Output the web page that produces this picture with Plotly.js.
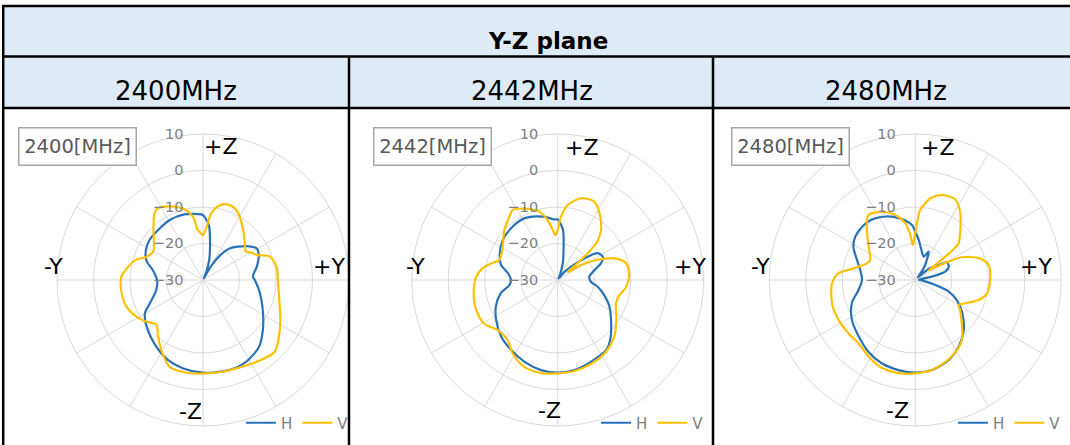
<!DOCTYPE html>
<html>
<head>
<meta charset="utf-8">
<script src="https://cdn.plot.ly/plotly-3.0.1.min.js"></script>
<style>
  html, body { margin: 0; padding: 0; background: #ffffff; }
  #chart { width: 1070px; height: 445px; }
</style>
</head>
<body>
<div id="chart"></div>
<script>
// ---------------- DATA (angle in degrees clockwise from +Z, gain in dBi) ----------------
const TITLE = "Y-Z plane";
const FREQ_HEADERS = ["2400MHz", "2442MHz", "2480MHz"];
const FREQ_LABELS = ["2400[MHz]", "2442[MHz]", "2480[MHz]"];
const SERIES_NAMES = ["H", "V"];
const DIR_LABELS = ["+Z", "-Z", "-Y", "+Y"];
const RADIAL_TICKS = [-30, -20, -10, 0, 10];

const T_2400_H = [0,6,10,17,22,26,30,35,40,52,60,67,76,86,90,103,119,130,140,152,164,180,193,204,215,230,240,246,258,270,281,289,298,307,318,331,344,358];
const R_2400_H = [-12.2,-14.8,-18.9,-24.2,-27.5,-29.5,-25.5,-21.5,-18.7,-14.9,-12.9,-13.4,-14.8,-16.3,-15.8,-14,-11.2,-8.6,-6.1,-4.7,-4.3,-4.6,-5.2,-6.1,-7.7,-9.9,-11.6,-14,-16.9,-17.4,-16,-13.6,-12.3,-11.7,-11.6,-11.2,-11.3,-12];
const T_2400_V = [0,4,7,11.5,17,24,30,39,49,56,60.5,65.6,70.7,80,90,102,118,127,135,147,155,168,180,190,201,208,218.5,226,234,241,251,263,272,280,287,292,300,307,315,324,328,336,345.5,351,354,357.5];
const R_2400_V = [-17.7,-15.4,-11.6,-9.4,-8.3,-8.5,-9.9,-12.5,-14.8,-15.9,-14.8,-13.5,-10.6,-9.5,-9.5,-8.7,-6,-4,-2.2,-3.2,-3.9,-4.3,-4.4,-4.2,-4.5,-6.7,-10.2,-12.3,-10.7,-9.2,-7.8,-7.4,-7.6,-9.2,-10.9,-13.2,-14.3,-13.2,-10.8,-7.4,-6.8,-7.9,-10,-12.5,-16.2,-17.2];

const T_2442_H = [0,6,10,17,22,30,40,45,51,56,63,69,75,84,93,99.5,108,117,127,137,145,158,169.5,180,190.5,202,214,225,237,247,257,264,270,278,285,295,306,318,332,347,357];
const R_2442_H = [-13.4,-16.2,-20.7,-25.2,-28,-29.5,-27,-24.8,-20.6,-16.8,-16.1,-17.3,-19.6,-21.3,-20.9,-18.9,-16.6,-14.1,-11.7,-8.7,-6.7,-5.8,-4.9,-4.6,-4.9,-5.8,-7,-8.1,-9.9,-11.6,-14,-16.7,-17.2,-16.2,-13.9,-12.5,-11.4,-10.9,-10.8,-12.2,-13.4];
const T_2442_V = [0,3,7.6,16,25,32,41,46,48,49.5,51,54,57,63,69,76,87,96,104,112,124,135,146,158,170,180,190,201,211.5,220,230,239,250,261,272,279,284,289,301,313,322.6,327,335,345,350.5,354.3,357];
const R_2442_V = [-16.3,-12.6,-9.3,-6.7,-6.3,-8.4,-11.9,-15,-18.5,-22.5,-26.5,-25.5,-22.4,-17.8,-13.4,-10.7,-10.4,-11.2,-12.6,-12.8,-10.6,-8.1,-6.3,-5.3,-4.6,-4.4,-4.1,-4.5,-6.4,-8.6,-8.6,-6.6,-6.2,-6.7,-7.6,-9.2,-11.2,-13.1,-12.4,-10,-8.2,-7.2,-8.4,-10.6,-13.4,-16.2,-17.7];

const T_2480_H = [0,5,13,20,25,30,37,44,50,57,61,68,74.5,78,86,95,104,109,116,125,136,147,157,169.5,180,190.5,202,213,225,238,250,260,270,280,289,298,306,315,323,335,346,356.5];
const R_2480_H = [-16.8,-19,-22,-23.2,-21.4,-23.7,-26.5,-29,-25.5,-22.4,-20.1,-20.1,-21.5,-24.9,-29,-28,-24.3,-20.3,-17.3,-14.3,-10.9,-8.2,-6.3,-4.9,-4.6,-4.9,-5.4,-6.5,-8.1,-9.5,-11.5,-14.2,-15.4,-14.7,-13.1,-10.8,-9.7,-9.4,-9.5,-10.8,-12.6,-14.9];
const T_2480_V = [0,2,4,10.4,17.4,26,33,39.5,45,49.8,51.5,52.5,54,57,61,64,71,78.4,90,100.5,107.5,115,120,124,133,142,149,157.4,169.5,180,190,200.7,211,222,231,242,254,268,275,280,289,294,305.5,316,324,334,343,350,353.7,356];
const R_2480_V = [-17,-14,-10.8,-7.3,-5.6,-5.3,-7.5,-10.5,-12.7,-14.5,-17.3,-21.9,-25.5,-24,-19.6,-15.8,-11.6,-9.5,-9.5,-10,-11.8,-14.9,-16.3,-15.2,-12.6,-9.2,-7.7,-6.4,-4.9,-4.4,-4.1,-4.2,-5.4,-6.7,-6.6,-6.3,-6.3,-7.2,-8.9,-12.4,-16,-16.5,-14.3,-10.9,-8.1,-9.2,-11.4,-14.2,-17.6,-20.4];

// ---------------- LAYOUT CONSTANTS ----------------
const W = 1070, H = 445;
const COL_H = "#2A72B8", COL_V = "#FFC000";
const GRID = "#D9D9D9";
const FONT = "DejaVu Sans, Verdana, sans-serif";
const px = x => x / W;
const py = y => 1 - y / H;

const centers = [203, 557.7, 915.3];
const CY = 280, RAD = 146;

const dataSets = [
  [[T_2400_H, R_2400_H], [T_2400_V, R_2400_V]],
  [[T_2442_H, R_2442_H], [T_2442_V, R_2442_V]],
  [[T_2480_H, R_2480_H], [T_2480_V, R_2480_V]]
];

const traces = [];
const layout = {
  width: W, height: H,
  margin: {l: 0, r: 0, t: 0, b: 0, pad: 0},
  paper_bgcolor: "#ffffff",
  plot_bgcolor: "#ffffff",
  showlegend: true,
  font: {family: FONT},
  shapes: [],
  annotations: []
};

const polarNames = ["polar", "polar2", "polar3"];
const legendNames = ["legend", "legend2", "legend3"];
const legendRight = [354, 709, 1066];

for (let i = 0; i < 3; i++) {
  const cx = centers[i];
  layout[polarNames[i]] = {
    domain: {x: [px(cx - RAD), px(cx + RAD)], y: [py(CY + RAD), py(CY - RAD)]},
    bgcolor: "rgba(0,0,0,0)",
    radialaxis: {
      range: [-30, 10],
      tickvals: RADIAL_TICKS,
      angle: 90,
      side: "counterclockwise",
      showline: false,
      gridcolor: GRID,
      gridwidth: 1,
      ticks: "outside",
      ticklen: 14,
      tickcolor: "rgba(0,0,0,0)",
      tickfont: {size: 14.5, color: "#808080", family: FONT},
      tickangle: 90
    },
    angularaxis: {
      rotation: 90,
      direction: "clockwise",
      dtick: 30,
      showticklabels: false,
      ticks: "",
      gridcolor: GRID,
      gridwidth: 1,
      linecolor: GRID,
      linewidth: 1,
      showline: true
    }
  };
  layout[legendNames[i]] = {
    x: px(legendRight[i]), xanchor: "right",
    y: py(423), yanchor: "middle",
    orientation: "h",
    bgcolor: "rgba(0,0,0,0)",
    borderwidth: 0,
    font: {size: 15, color: "#808080", family: FONT},
    itemwidth: 30,
    tracegroupgap: 0
  };
  const cols = [COL_H, COL_V];
  for (let s = 0; s < 2; s++) {
    const th = dataSets[i][s][0], rr = dataSets[i][s][1];
    traces.push({
      type: "scatterpolar",
      mode: "lines",
      name: SERIES_NAMES[s],
      theta: th.concat([th[0]]),
      r: rr.concat([rr[0]]),
      subplot: polarNames[i],
      legend: legendNames[i],
      line: {color: cols[s], width: 2.2, shape: "spline", smoothing: 0.8},
      hoverinfo: "skip"
    });
  }
}

// ---------------- TABLE FRAME ----------------
layout.shapes.push({type: "rect", xref: "paper", yref: "paper", x0: px(3), x1: px(1072), y0: py(108), y1: py(6),
  fillcolor: "#DEEAF6", line: {width: 0}, layer: "below"});
const hline = (y, x0, x1) => ({type: "line", xref: "paper", yref: "paper", x0: px(x0), x1: px(x1), y0: py(y), y1: py(y), line: {color: "#000000", width: 2.5}});
const vline = (x, y0, y1) => ({type: "line", xref: "paper", yref: "paper", x0: px(x), x1: px(x), y0: py(y0), y1: py(y1), line: {color: "#000000", width: 2.5}});
layout.shapes.push(hline(6, 2, 1072));
layout.shapes.push(hline(56.5, 2, 1072));
layout.shapes.push(hline(108, 2, 1072));
layout.shapes.push(vline(3.2, 5, 447));
layout.shapes.push(vline(349, 56, 447));
layout.shapes.push(vline(713, 56, 447));

// header texts
layout.annotations.push({xref: "paper", yref: "paper", x: px(548), y: py(41), xanchor: "center", yanchor: "middle",
  text: "<b>" + TITLE + "</b>", showarrow: false, font: {size: 23, color: "#000000", family: FONT}});
const headerX = [176, 532, 886];
for (let i = 0; i < 3; i++) {
  layout.annotations.push({xref: "paper", yref: "paper", x: px(headerX[i]), y: py(91.5), xanchor: "center", yanchor: "middle",
    text: FREQ_HEADERS[i], showarrow: false, font: {size: 26, color: "#000000", family: FONT}});
}

// frequency boxes
const boxX = [77.5, 432.5, 790];
for (let i = 0; i < 3; i++) {
  layout.annotations.push({xref: "paper", yref: "paper", x: px(boxX[i]), y: py(146), xanchor: "center", yanchor: "middle",
    text: FREQ_LABELS[i], showarrow: false, width: 112, height: 32, borderpad: 2,
    bordercolor: "#A6A6A6", borderwidth: 1.5, bgcolor: "#ffffff",
    font: {size: 19.5, color: "#595959", family: FONT}});
}

// direction labels: [+Z, -Z, -Y, +Y] centers in px per plot
const dirPos = [
  [[221, 146], [190, 411], [53.5, 266], [329, 266]],
  [[581.5, 147], [550, 410], [415, 266], [690, 266]],
  [[937.5, 147], [897, 410], [760.5, 266], [1035.5, 266]]
];
for (let i = 0; i < 3; i++) {
  for (let k = 0; k < 4; k++) {
    layout.annotations.push({xref: "paper", yref: "paper", x: px(dirPos[i][k][0]), y: py(dirPos[i][k][1]),
      xanchor: "center", yanchor: "middle", text: DIR_LABELS[k], showarrow: false,
      font: {size: 22, color: "#000000", family: FONT}});
  }
}

Plotly.newPlot("chart", traces, layout, {staticPlot: true, displayModeBar: false});
</script>
</body>
</html>
